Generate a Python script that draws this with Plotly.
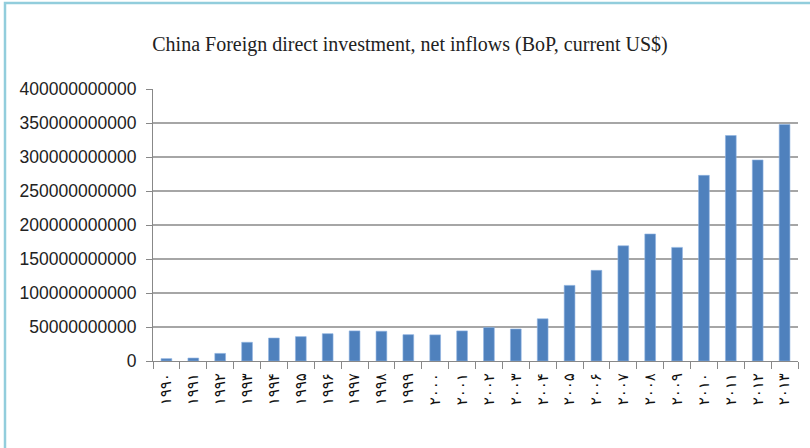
import plotly.graph_objects as go

years = list(range(1990, 2014))
year_labels = ["۱۹۹۰", "۱۹۹۱", "۱۹۹۲", "۱۹۹۳", "۱۹۹۴", "۱۹۹۵", "۱۹۹۶", "۱۹۹۷",
               "۱۹۹۸", "۱۹۹۹", "۲۰۰۰", "۲۰۰۱", "۲۰۰۲", "۲۰۰۳", "۲۰۰۴", "۲۰۰۵",
               "۲۰۰۶", "۲۰۰۷", "۲۰۰۸", "۲۰۰۹", "۲۰۱۰", "۲۰۱۱", "۲۰۱۲", "۲۰۱۳"]
fdi_inflows = [3.487e9, 4.366e9, 11.156e9, 27.515e9, 33.787e9, 35.849e9, 40.180e9,
               44.237e9, 43.751e9, 38.753e9, 38.399e9, 44.241e9, 49.308e9, 47.077e9,
               62.108e9, 111.210e9, 133.273e9, 169.389e9, 186.802e9, 167.071e9,
               272.987e9, 331.591e9, 295.625e9, 347.849e9]
y_ticks = [0, 50e9, 100e9, 150e9, 200e9, 250e9, 300e9, 350e9, 400e9]
y_tick_text = ["0", "50000000000", "100000000000", "150000000000", "200000000000",
               "250000000000", "300000000000", "350000000000", "400000000000"]

fig = go.Figure(go.Bar(
    x=year_labels, y=fdi_inflows,
    marker=dict(color="#4F81BD", line=dict(width=0.6, color="#8EB4E3")),
    hoverinfo="x+y",
))

L, R, T, B = 153, 12, 89, 87
pw = 810 - L - R
ph = 448 - T - B

fig.update_layout(
    width=810, height=448,
    margin=dict(l=L, r=R, t=T, b=B),
    paper_bgcolor="white", plot_bgcolor="white",
    bargap=0.6,
    showlegend=False,
    title=dict(text="China Foreign direct investment, net inflows (BoP, current US$)",
               x=410 / 810, xanchor="center", y=1 - 44 / 448, yanchor="middle",
               font=dict(family="Liberation Serif", size=20, color="#222222")),
    xaxis=dict(
        type="category",
        tickangle=-90,
        ticks="outside", tickson="boundaries", ticklen=7, tickcolor="#888888",
        showline=True, linecolor="#888888", linewidth=1.2,
        showgrid=False,
        tickfont=dict(family="DejaVu Sans", size=15, color="#111111"),
        ticklabelstandoff=5,
    ),
    yaxis=dict(
        range=[0, 400e9],
        tickvals=y_ticks, ticktext=y_tick_text,
        ticks="outside", ticklen=6, tickcolor="#888888",
        showline=True, linecolor="#888888", linewidth=1.2,
        showgrid=True, gridcolor="#A6A6A6", gridwidth=1.5,
        zeroline=False,
        ticklabelstandoff=6,
        tickfont=dict(family="Liberation Sans", size=17.5, color="#222222"),
    ),
    shapes=[
        dict(type="rect", xref="paper", yref="paper", layer="above",
             x0=(5 - L) / pw, x1=1 + (R + 20) / pw,
             y0=-(B + 20) / ph, y1=1 + (T - 3) / ph,
             fillcolor="rgba(0,0,0,0)",
             line=dict(color="#92CDDC", width=2.5)),
    ],
)

fig.write_html("out.html",
               config={"displayModeBar": False},
               post_script="document.body.style.margin='0';document.body.style.overflow='hidden';")
